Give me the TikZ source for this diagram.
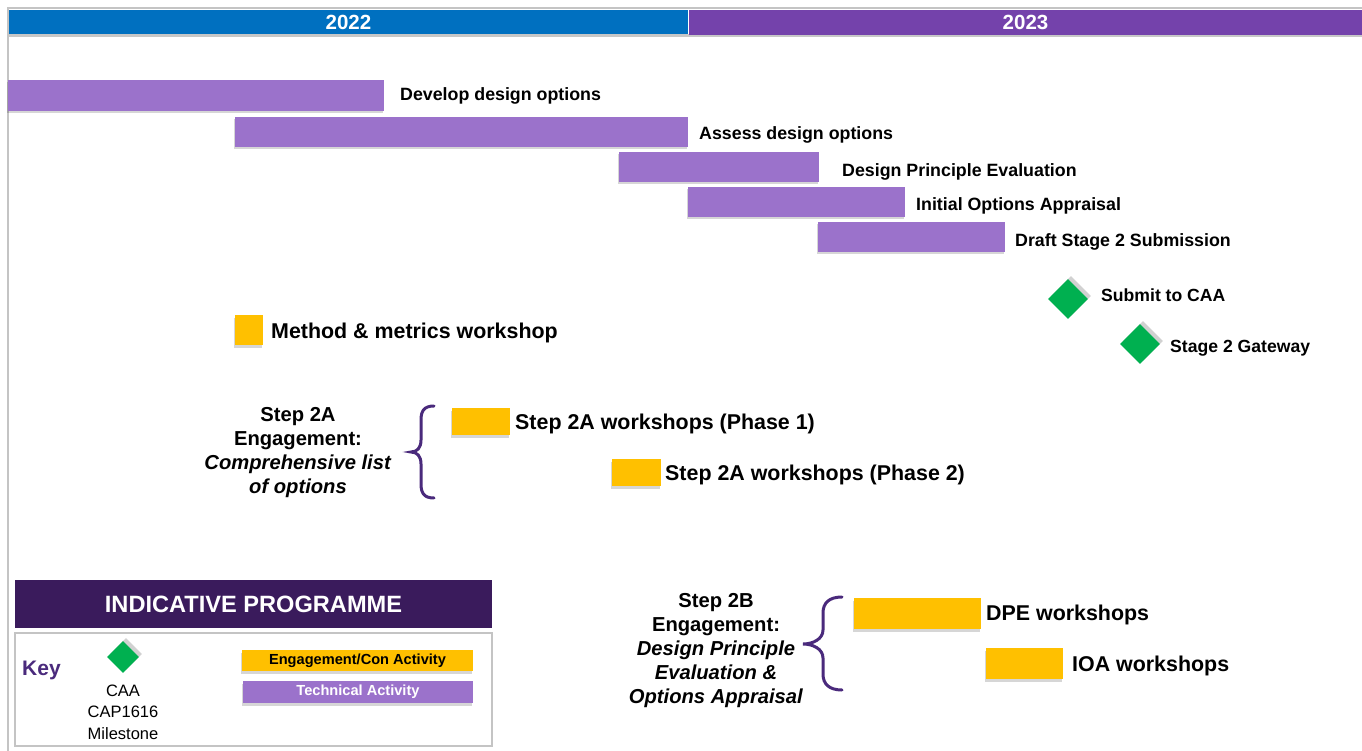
\documentclass[tikz,border=0pt]{standalone}
\usepackage{fontspec}
\setmainfont{Liberation Sans}
\usetikzlibrary{shadows}
\definecolor{yblue}{HTML}{0070C0}
\definecolor{ypurple}{HTML}{7442AB}
\definecolor{tech}{HTML}{9B72CB}
\definecolor{eng}{HTML}{FFC000}
\definecolor{mile}{HTML}{00B050}
\definecolor{titlec}{HTML}{3A1B5C}
\definecolor{bracec}{HTML}{4A2A7C}
\definecolor{framec}{HTML}{C4C4C4}
\tikzset{
  box/.style={draw=none, inner sep=0pt, outer sep=0pt, anchor=north west},
  shad/.style={drop shadow={shadow xshift=-1pt, shadow yshift=-2.5pt, opacity=0.16, fill=black}},
  techbar/.style={box, fill=tech, shad},
  engbar/.style={box, fill=eng, shad},
  mstone/.style={fill=mile, rotate=45, inner sep=0pt, outer sep=0pt,
     drop shadow={shadow xshift=3pt, shadow yshift=3pt, opacity=0.18, fill=black}},
  yearhdr/.style={box, text=white, font=\bfseries\fontsize{20.5}{22}\selectfont},
  lbl/.style={anchor=west, inner sep=0pt, font=\bfseries\fontsize{17.8}{20}\selectfont},
  mlbl/.style={anchor=west, inner sep=0pt, font=\bfseries\fontsize{17.6}{20}\selectfont},
  biglbl/.style={anchor=west, inner sep=0pt, font=\bfseries\fontsize{21.4}{24}\selectfont},
  steptxt/.style={align=center, inner sep=0pt, font=\bfseries\fontsize{20.2}{24}\selectfont},
  bracestyle/.style={draw=bracec, line width=3pt, line cap=round},
}
\begin{document}
\begin{tikzpicture}[x=1pt,y=-1pt]
\useasboundingbox (0,0) rectangle (1362,751);
\fill[white] (0,0) rectangle (1362,751);
% frame
\coordinate (ftop) at (8,751);
\coordinate (fbot) at (8,8);
\coordinate (fright) at (1362,8);
\draw[framec, line width=2pt] (ftop) -- (fbot) -- (fright);
% year headers
\fill[black!22] (9,34) rectangle (1362,37);
\node[yearhdr, fill=yblue, minimum width=679pt, minimum height=24pt] (y22) at (9,10) {2022};
\node[yearhdr, fill=ypurple, minimum width=673pt, minimum height=25pt] (y23) at (689,10) {2023};
% technical bars
\node[techbar, minimum width=376pt, minimum height=31pt] (dev) at (8,80) {};
\node[techbar, minimum width=453pt, minimum height=30pt] (ass) at (235,117) {};
\node[techbar, minimum width=200pt, minimum height=30pt] (dpe) at (619,152) {};
\node[techbar, minimum width=217pt, minimum height=30pt] (ioa) at (688,187) {};
\node[techbar, minimum width=187pt, minimum height=30pt] (drf) at (818,222) {};
\node[lbl] (devl) at (400,96) {Develop design options};
\node[lbl] (assl) at (699,135) {Assess design options};
\node[lbl] (dpel) at (842,172) {Design Principle Evaluation};
\node[lbl] (ioal) at (916,206) {Initial Options Appraisal};
\node[lbl] (drfl) at (1015,242) {Draft Stage 2 Submission};
% milestones
\node[mstone, minimum size=28pt] (sub) at (1068,299) {};
\node[mstone, minimum size=28pt] (gate) at (1140,344) {};
\node[mlbl] (subl) at (1101,295) {Submit to CAA};
\node[mlbl] (gatel) at (1170,348) {Stage 2 Gateway};
% engagement
\node[engbar, minimum width=28pt, minimum height=30pt] (meth) at (235,315) {};
\node[biglbl] (methl) at (271,333) {Method \& metrics workshop};
\node[engbar, minimum width=58pt, minimum height=27pt] (p1) at (452,408) {};
\node[biglbl] (p1l) at (515,424) {Step 2A workshops (Phase 1)};
\node[engbar, minimum width=49pt, minimum height=27pt] (p2) at (612,459) {};
\node[biglbl] (p2l) at (665,475) {Step 2A workshops (Phase 2)};
\node[engbar, minimum width=127pt, minimum height=31pt] (dpew) at (854,598) {};
\node[biglbl] (dpewl) at (986,615) {DPE workshops};
\node[engbar, minimum width=77pt, minimum height=31pt] (ioaw) at (986,648) {};
\node[biglbl] (ioawl) at (1072,666) {IOA workshops};
% step texts
\node[steptxt] (s2a) at (298,453) {Step 2A\\Engagement:\\\textit{Comprehensive list}\\\textit{of options}};
\node[steptxt] (s2b) at (716,651) {Step 2B\\Engagement:\\\textit{Design Principle}\\\textit{Evaluation \&}\\\textit{Options Appraisal}};
% braces
\draw[bracestyle] (434,406) .. controls (424,406) and (421,411) .. (421,420) -- (421,440)
   .. controls (421,448) and (417,452) .. (411,452)
   .. controls (417,452) and (421,456) .. (421,464) -- (421,484)
   .. controls (421,493) and (424,498) .. (434,498);
\draw[bracestyle] (842,597) .. controls (829,597) and (823,603) .. (823,613) -- (823,630)
   .. controls (823,639) and (813,644) .. (803,644)
   .. controls (813,644) and (823,649) .. (823,658) -- (823,674)
   .. controls (823,684) and (829,690) .. (842,690);
% legend
\node[box, fill=titlec, minimum width=477pt, minimum height=48pt, text=white,
      font=\bfseries\fontsize{23.6}{26}\selectfont] (ttl) at (15,580) {INDICATIVE PROGRAMME};
\node[box, draw=framec, line width=2pt, minimum width=477pt, minimum height=113pt] (keybox) at (15,633) {};
\node[anchor=west, inner sep=0pt, text=bracec, font=\bfseries\fontsize{21}{24}\selectfont] (key) at (22,670) {Key};
\node[mstone, minimum size=22.5pt] (kdia) at (123,657) {};
\node[align=center, inner sep=0pt, font=\fontsize{16.5}{21.5}\selectfont] (kcaa) at (123,712) {CAA\\CAP1616\\Milestone};
\node[engbar, minimum width=231pt, minimum height=21pt, font=\bfseries\fontsize{14.6}{16}\selectfont] (keng) at (242,650) {Engagement/Con Activity};
\node[techbar, minimum width=230pt, minimum height=22pt, text=white, font=\bfseries\fontsize{14.6}{16}\selectfont] (ktech) at (243,681) {Technical Activity};
\end{tikzpicture}
\end{document}
